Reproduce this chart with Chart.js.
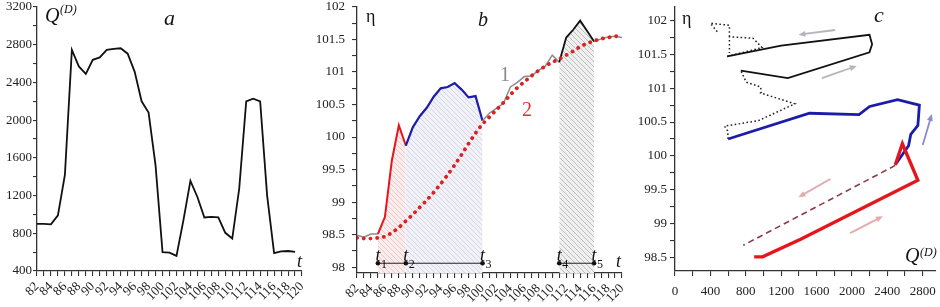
<!DOCTYPE html>
<html><head><meta charset="utf-8">
<script src="https://cdn.jsdelivr.net/npm/chart.js@4.4.0/dist/chart.umd.min.js"></script>
<style>
html,body{margin:0;padding:0;background:#fff;}
#wrap{position:relative;width:940px;height:307px;overflow:hidden;background:#fff;}
canvas{position:absolute;top:0;}
.lbl{position:absolute;font-family:"Liberation Serif","DejaVu Serif",serif;line-height:1;white-space:nowrap;color:#151515;}
.it{font-style:italic;}
</style></head>
<body><div id="wrap">
<canvas id="ca" width="312" height="307" style="left:0"></canvas>
<canvas id="cb" width="318" height="307" style="left:312px"></canvas>
<canvas id="cc" width="312" height="307" style="left:628px"></canvas>
<span class="lbl it" style="left:45px;top:5px;font-size:20px">Q</span>
<span class="lbl it" style="left:60px;top:3px;font-size:12px">(D)</span>
<span class="lbl it" style="left:164px;top:7px;font-size:22px">a</span>
<span class="lbl it" style="left:297px;top:252px;font-size:18px">t</span>
<span class="lbl" style="left:366px;top:7px;font-size:18px">η</span>
<span class="lbl it" style="left:478px;top:9px;font-size:20px">b</span>
<span class="lbl" style="left:500px;top:64px;font-size:20px;color:#8a8a8a">1</span>
<span class="lbl" style="left:522px;top:99px;font-size:20px;color:#e03030">2</span>
<span class="lbl it" style="left:616px;top:252px;font-size:18px">t</span>
<span class="lbl" style="left:682px;top:9px;font-size:18px">η</span>
<span class="lbl it" style="left:874px;top:4px;font-size:22px">c</span>
<span class="lbl it" style="left:905px;top:245px;font-size:20px">Q</span>
<span class="lbl it" style="left:920px;top:246px;font-size:12px">(D)</span>
</div>
<script>
// ---------- data ----------
const years = [82,83,84,85,86,87,88,89,90,91,92,93,94,95,96,97,98,99,100,101,102,103,104,105,106,107,108,109,110,111,112,113,114,115,116,117,118,119,120];
// Q^(D) (panel a)
const Q = [900,900,895,990,1420,2745,2570,2490,2640,2665,2745,2755,2762,2705,2515,2200,2080,1520,600,595,560,940,1355,1185,968,975,968,805,744,1275,2198,2228,2198,1200,590,608,612,602,null];
// eta, curve 1 (panel b)
const eta1 = [98.49,98.46,98.51,98.51,98.77,99.64,100.18,99.87,100.15,100.32,100.45,100.62,100.75,100.77,100.83,100.73,100.61,100.63,100.25,100.37,100.44,100.52,100.77,100.84,100.93,100.94,101.02,101.09,101.26,101.15,101.53,101.65,101.79,101.63,101.47,101.51,101.54,101.55,101.53];
// eta, curve 2 (trend, panel b)
const eta2 = [98.45,98.44,98.44,98.45,98.47,98.53,98.61,98.71,98.81,98.92,99.03,99.15,99.28,99.42,99.57,99.73,99.9,100.06,100.2,100.31,100.42,100.53,100.65,100.76,100.85,100.94,101.02,101.09,101.15,101.2,101.26,101.32,101.39,101.44,101.48,101.51,101.53,101.55,101.54];
// tick labels
const yearLabels = [82,84,86,88,90,92,94,96,98,100,102,104,106,108,110,112,114,116,118,120];
const qLabels = [400,800,1200,1600,2000,2400,2800,3200];
const etaLabelsB = [98,98.5,99,99.5,100,100.5,101,101.5,102];
const qLabelsC = [0,400,800,1200,1600,2000,2400,2800];
const etaLabelsC = [98.5,99,99.5,100,100.5,101,101.5,102];
// time marks t1..t5
const tYears = [85,89,100,111,116];
const tNames = ['1','2','3','4','5'];
const tLevel = 98.06;
// phase-plane extras (panel c)
const cReturnQ = [2490,772];
const cReturnEta = [99.86,98.68];
const cTailQ = [590,985,880,615,615,null,615,615,400,480];
const cTailEta = [101.47,101.60,101.74,101.76,101.52,null,101.76,101.93,101.96,101.83];
// direction arrows (panel c): from (q0,e0) to (q1,e1)
const arrowQ0 = [1810,1660,2800,1755,1980];
const arrowE0 = [101.86,101.15,100.16,99.66,98.86];
const arrowQ1 = [1395,2055,2903,1395,2350];
const arrowE1 = [101.79,101.33,100.62,99.39,99.11];
const arrowCol = ['#b4b4bc','#b4b4bc','#8a8ad2','#e2aaaa','#e2aaaa'];

// ---------- helpers ----------
Chart.defaults.font.family = '"Liberation Serif","DejaVu Serif",serif';
Chart.defaults.color = '#222';
const FS = 13;
function steps(a,b,s){const r=[];for(let v=a;v<=b+1e-9;v+=s)r.push(+v.toFixed(4));return r;}
function axisOpts(opts){
  return Object.assign({
    type:'linear',
    border:{display:true,color:'#333',width:1.3},
    grid:{display:true,drawOnChartArea:false,drawTicks:true,tickLength:5,color:'#333',lineWidth:1.1},
  },opts);
}
function fixed(list,labels,fmt){
  return {
    afterBuildTicks(s){s.ticks=list.map(v=>({value:v}));},
    ticks:{autoSkip:false,callback:(v)=>labels.some(l=>Math.abs(l-v)<1e-6)?(fmt?fmt(v):String(v)):''}
  };
}
function noPad(size,isX){return function(s){ if(isX) s.height=size; else s.width=size; s.paddingLeft=0;s.paddingRight=0;s.paddingTop=0;s.paddingBottom=0;};}
function hatch(bg,fg){
  const c=document.createElement('canvas');c.width=c.height=5;const g=c.getContext('2d');
  g.fillStyle=bg;g.fillRect(0,0,5,5);g.strokeStyle=fg;g.lineWidth=1;
  g.beginPath();g.moveTo(-1,-1);g.lineTo(6,6);g.moveTo(-1,4);g.lineTo(1,6);g.moveTo(4,-1);g.lineTo(6,1);g.stroke();
  return g.createPattern(c,'repeat');
}
const pts = (ys,from,to)=>years.map((yr,i)=>({x:yr,y:ys[i]})).filter(p=>p.x>=from&&p.x<=to&&p.y!=null);
const phase = (from,to)=>years.map((yr,i)=>({yr,x:Q[i],y:eta1[i]})).filter(p=>p.yr>=from&&p.yr<=to&&p.x!=null);
const xy = (xs,ys)=>xs.map((v,i)=>({x:v,y:ys[i]}));
const yearAxis = (h)=>axisOpts(Object.assign({min:82,max:120,afterFit:noPad(h,true)},
  (()=>{const f=fixed(years,yearLabels);f.ticks.maxRotation=45;f.ticks.minRotation=45;f.ticks.padding=3;f.ticks.font={size:FS};return f;})()));
const common = {responsive:false,animation:false,events:[],plugins:{legend:{display:false},tooltip:{enabled:false}},elements:{point:{radius:0}}};

// ---------- panel a ----------
new Chart(document.getElementById('ca'),{
  type:'line',
  data:{datasets:[{data:pts(Q,82,119),borderColor:'#111',borderWidth:1.8,tension:0}]},
  options:Object.assign({},common,{
    layout:{padding:{top:7,right:10,left:0,bottom:0}},
    scales:{
      x:yearAxis(36),
      y:axisOpts(Object.assign({min:400,max:3200,afterFit:noPad(37,false)},(()=>{const f=fixed(steps(400,3200,200),qLabels);f.ticks.padding=1;f.ticks.font={size:FS};return f;})(),{grid:{display:true,drawOnChartArea:false,tickLength:4,color:'#333',lineWidth:1.1}}))
    }
  })
});

// ---------- panel b ----------
function segColor(yr){ if(yr>=85&&yr<89) return ['#e8141c',2]; if(yr>=89&&yr<100) return ['#1c1caa',2.2]; if(yr>=111&&yr<116) return ['#111',1.8]; return ['#8c8c8c',1.5]; }
const tMarks = {id:'tmarks',afterDatasetsDraw(chart){
  const {ctx,scales:{x,y}}=chart; ctx.save(); ctx.fillStyle='#111';
  tYears.forEach((yr,i)=>{const px=x.getPixelForValue(yr),py=y.getPixelForValue(tLevel);
    ctx.font='italic 18px "Liberation Serif"';ctx.textAlign='center';ctx.textBaseline='alphabetic';ctx.fillText('t',px,py-2);
    ctx.font='12px "Liberation Serif"';ctx.textAlign='left';ctx.fillText(tNames[i],px+3,py+5);});
  ctx.restore();}};
new Chart(document.getElementById('cb'),{
  type:'line',
  data:{datasets:[
    {data:pts(eta2,82,120),borderColor:'#dd2020',borderWidth:3.8,borderDash:[0.1,6.6],borderCapStyle:'round',tension:0.3},
    {data:pts(eta1,82,120),borderColor:'#8c8c8c',borderWidth:1.5,tension:0,
      segment:{borderColor:c=>segColor(years[c.p0DataIndex])[0],borderWidth:c=>segColor(years[c.p0DataIndex])[1]}},
    {data:xy(tYears.slice(0,3),[tLevel,tLevel,tLevel]),borderColor:'#222',borderWidth:1,pointRadius:2.3,pointBackgroundColor:'#111',pointBorderWidth:0},
    {data:xy(tYears.slice(3),[tLevel,tLevel]),borderColor:'#222',borderWidth:1,pointRadius:2.3,pointBackgroundColor:'#111',pointBorderWidth:0},
    {data:pts(eta1,85,89),borderWidth:0,fill:'start',backgroundColor:hatch('#fbeded','#eec8c8')},
    {data:pts(eta1,89,100),borderWidth:0,fill:'start',backgroundColor:hatch('#f1f1f8','#d6d6e8')},
    {data:pts(eta1,111,116),borderWidth:0,fill:'start',backgroundColor:hatch('#f0f0f0','#bcbcbc')}
  ]},
  options:Object.assign({},common,{
    layout:{padding:{top:7,right:8,left:0,bottom:0}},
    scales:{
      x:yearAxis(34),
      y:axisOpts(Object.assign({min:97.91,max:102,afterFit:noPad(45,false)},(()=>{const f=fixed(steps(98,102,0.25),etaLabelsB);f.ticks.padding=7;f.ticks.font={size:FS};return f;})()))
    }
  }),
  plugins:[tMarks]
});

// ---------- panel c ----------
const arrows = {id:'arrows',afterDatasetsDraw(chart){
  const {ctx,scales:{x,y}}=chart; ctx.save(); ctx.lineWidth=1.8;
  arrowQ0.forEach((q,i)=>{const x0=x.getPixelForValue(q),y0=y.getPixelForValue(arrowE0[i]),x1=x.getPixelForValue(arrowQ1[i]),y1=y.getPixelForValue(arrowE1[i]);
    const a=Math.atan2(y1-y0,x1-x0),L=7,W=3;
    ctx.strokeStyle=arrowCol[i];ctx.fillStyle=arrowCol[i];
    ctx.beginPath();ctx.moveTo(x0,y0);ctx.lineTo(x1-Math.cos(a)*L*0.6,y1-Math.sin(a)*L*0.6);ctx.stroke();
    ctx.beginPath();ctx.moveTo(x1,y1);ctx.lineTo(x1-Math.cos(a)*L-Math.sin(a)*W,y1-Math.sin(a)*L+Math.cos(a)*W);
    ctx.lineTo(x1-Math.cos(a)*L+Math.sin(a)*W,y1-Math.sin(a)*L-Math.cos(a)*W);ctx.closePath();ctx.fill();});
  ctx.restore();}};
new Chart(document.getElementById('cc'),{
  type:'scatter',
  data:{datasets:[
    {data:phase(84,89),showLine:true,borderColor:'#e8141c',borderWidth:3.3},
    {data:phase(89,100),showLine:true,borderColor:'#1c1caa',borderWidth:2.8},
    {data:phase(110,116),showLine:true,borderColor:'#111',borderWidth:1.8},
    {data:phase(100,110),showLine:true,borderColor:'#222',borderWidth:1.5,borderDash:[1.6,2.4]},
    {data:xy(cTailQ,cTailEta),showLine:true,spanGaps:false,borderColor:'#222',borderWidth:1.5,borderDash:[1.6,2.4]},
    {data:xy(cReturnQ,cReturnEta),showLine:true,borderColor:'#8c3a4c',borderWidth:1.6,borderDash:[6,4]}
  ]},
  options:Object.assign({},common,{
    layout:{padding:{top:7,right:4,left:0,bottom:0}},
    scales:{
      x:axisOpts(Object.assign({min:0,max:2950,afterFit:noPad(36,true)},(()=>{const f=fixed(steps(0,2800,200),qLabelsC);f.ticks.padding=8;f.ticks.maxRotation=0;f.ticks.minRotation=0;f.ticks.font={size:FS};return f;})())),
      y:axisOpts(Object.assign({min:98.3,max:102.2,afterFit:noPad(47,false)},(()=>{const f=fixed(steps(98.5,102,0.25),etaLabelsC);f.ticks.padding=3;f.ticks.font={size:FS};return f;})()))
    }
  }),
  plugins:[arrows]
});
</script>
</body></html>
